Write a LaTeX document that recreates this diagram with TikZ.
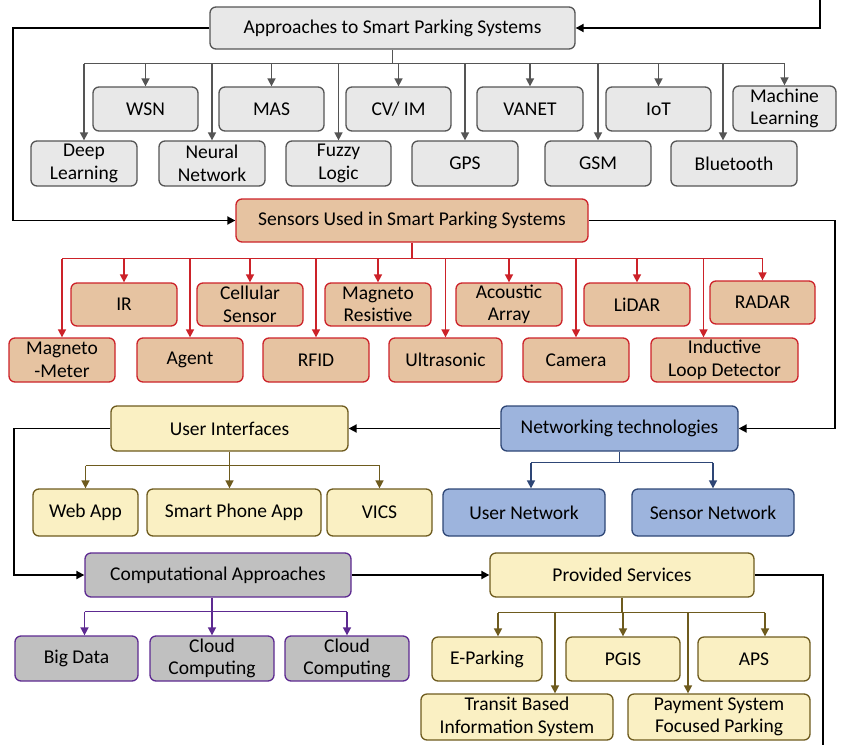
\documentclass[tikz,border=0pt]{standalone}
\usepackage{fontspec}
\setmainfont{Carlito}
\usetikzlibrary{arrows.meta}
\definecolor{apfill}{HTML}{E8E8E8}
\definecolor{apdraw}{HTML}{555555}
\definecolor{sefill}{HTML}{E6C3A1}
\definecolor{sedraw}{HTML}{CC2229}
\definecolor{uifill}{HTML}{FAF0C3}
\definecolor{uidraw}{HTML}{6E5B1E}
\definecolor{nefill}{HTML}{9DB4DD}
\definecolor{nedraw}{HTML}{2E4676}
\definecolor{cafill}{HTML}{C0C0C0}
\definecolor{cadraw}{HTML}{5D2A91}
\tikzset{
  box/.style={draw, rounded corners=6pt, line width=1.3pt, align=center, inner sep=1pt,
    font=\fontsize{19.5}{22.5}\selectfont},
  apbox/.style={box, fill=apfill, draw=apdraw},
  sebox/.style={box, fill=sefill, draw=sedraw},
  uibox/.style={box, fill=uifill, draw=uidraw},
  nebox/.style={box, fill=nefill, draw=nedraw},
  cabox/.style={box, fill=cafill, draw=cadraw},
  tip/.style={-{Triangle[length=8pt,width=8pt]}},
  flow/.style={line width=1.8pt, black},
  apline/.style={line width=1.6pt, apdraw},
  seline/.style={line width=1.6pt, sedraw},
  uiline/.style={line width=1.6pt, uidraw},
  neline/.style={line width=1.6pt, nedraw},
  caline/.style={line width=1.6pt, cadraw}
}
\begin{document}
\begin{tikzpicture}[x=1pt,y=-1pt]
\useasboundingbox (0,0) rectangle (854,745);

% Approaches
\node[apbox, minimum width=365pt, minimum height=42pt] (appr) at (392.5,28) {Approaches to Smart Parking Systems};
\node[apbox, minimum width=105pt, minimum height=44pt] (wsn) at (145.5,109) {WSN};
\node[apbox, minimum width=105pt, minimum height=44pt] (mas) at (271.5,109) {MAS};
\node[apbox, minimum width=105pt, minimum height=44pt] (cvim) at (398.5,109) {CV/ IM};
\node[apbox, minimum width=106pt, minimum height=44pt] (vanet) at (530,109) {VANET};
\node[apbox, minimum width=105pt, minimum height=44pt] (iot) at (658.5,109) {IoT};
\node[apbox, minimum width=103pt, minimum height=45pt] (ml) at (784.5,108.5) {Machine\\Learning};
\node[apbox, minimum width=106pt, minimum height=45pt] (deep) at (84,163.5) {Deep\\Learning};
\node[apbox, minimum width=106pt, minimum height=45pt] (neural) at (212,163.5) {Neural\\Network};
\node[apbox, minimum width=105pt, minimum height=45pt] (fuzzy) at (338.5,163.5) {Fuzzy\\Logic};
\node[apbox, minimum width=106pt, minimum height=45pt] (gps) at (465,163.5) {GPS};
\node[apbox, minimum width=106pt, minimum height=45pt] (gsm) at (598,163.5) {GSM};
\node[apbox, minimum width=126pt, minimum height=45pt] (bluet) at (734,163.5) {Bluetooth};

\draw[apline] (appr.south) -- ++(0,14) coordinate (apbus);
\draw[apline] (apbus -| deep) -- (apbus -| ml);
\foreach \n in {wsn,mas,cvim,vanet,iot,ml,deep,neural,fuzzy,gps,gsm}
  \draw[apline,tip] (apbus -| \n) -- (\n.north);
\draw[apline,tip] ([xshift=-11pt]bluet.north |- apbus) -- ([xshift=-11pt]bluet.north);

% Sensors
\node[sebox, minimum width=352pt, minimum height=43pt] (sens) at (412,220.5) {Sensors Used in Smart Parking Systems};
\node[sebox, minimum width=106pt, minimum height=43pt] (ir) at (124,304.5) {IR};
\node[sebox, minimum width=106pt, minimum height=43pt] (cell) at (250,304.5) {Cellular\\Sensor};
\node[sebox, minimum width=106pt, minimum height=43pt] (magr) at (378,304.5) {Magneto\\Resistive};
\node[sebox, minimum width=106pt, minimum height=43pt] (acou) at (509,304.5) {Acoustic\\Array};
\node[sebox, minimum width=106pt, minimum height=43pt] (lidar) at (637,304.5) {LiDAR};
\node[sebox, minimum width=105pt, minimum height=43pt] (radar) at (762.5,302.5) {RADAR};
\node[sebox, minimum width=106pt, minimum height=44pt] (magm) at (62,360) {Magneto\\-Meter};
\node[sebox, minimum width=106pt, minimum height=44pt] (agent) at (190,360) {Agent};
\node[sebox, minimum width=106pt, minimum height=44pt] (rfid) at (316,360) {RFID};
\node[sebox, minimum width=113pt, minimum height=44pt] (ultra) at (445.5,360) {Ultrasonic};
\node[sebox, minimum width=106pt, minimum height=44pt] (camera) at (576,360) {Camera};
\node[sebox, minimum width=147pt, minimum height=44pt] (induct) at (724.5,360) {Inductive\\Loop Detector};

\draw[seline] (sens.south) -- ++(0,16) coordinate (sebus);
\draw[seline] (sebus -| magm) -- (sebus -| radar);
\foreach \n in {ir,cell,magr,acou,lidar,radar,magm,agent,rfid,ultra,camera}
  \draw[seline,tip] (sebus -| \n) -- (\n.north);
\draw[seline,tip] ([xshift=-21pt]induct.north |- sebus) -- ([xshift=-21pt]induct.north);

% Networking and user interfaces
\node[nebox, minimum width=237pt, minimum height=45pt] (net) at (619.5,428.5) {Networking technologies};
\node[uibox, minimum width=237pt, minimum height=45pt] (ui) at (229.5,428.5) {User Interfaces};
\node[uibox, minimum width=105pt, minimum height=47pt] (web) at (85.5,512.5) {Web App};
\node[uibox, minimum width=174pt, minimum height=47pt] (smart) at (234,512.5) {Smart Phone App};
\node[uibox, minimum width=105pt, minimum height=47pt] (vics) at (379.5,512.5) {VICS};
\node[nebox, minimum width=162pt, minimum height=47pt] (usern) at (524,512.5) {User Network};
\node[nebox, minimum width=162pt, minimum height=47pt] (sensn) at (713,512.5) {Sensor Network};

\draw[uiline] (ui.south) -- ++(0,14) coordinate (uibus);
\draw[uiline] (uibus -| web) -- (uibus -| vics);
\draw[uiline,tip] (uibus -| web) -- (web.north);
\draw[uiline,tip] (uibus) -- (uibus |- smart.north);
\draw[uiline,tip] (uibus -| vics) -- (vics.north);
\draw[neline] (net.south) -- ++(0,11) coordinate (nebus);
\draw[neline] ([xshift=7pt]nebus -| usern) -- (nebus -| sensn);
\draw[neline,tip] ([xshift=7pt]nebus -| usern) -- ([xshift=7pt]usern.north);
\draw[neline,tip] (nebus -| sensn) -- (sensn.north);

% Computational approaches and services
\node[cabox, minimum width=266pt, minimum height=44pt] (comp) at (218,575) {Computational Approaches};
\node[uibox, minimum width=264pt, minimum height=44pt] (prov) at (622,575) {Provided Services};
\node[cabox, minimum width=123pt, minimum height=45pt] (bigd) at (76.5,658.5) {Big Data};
\node[cabox, minimum width=124pt, minimum height=45pt] (cloudA) at (212,658.5) {Cloud\\Computing};
\node[cabox, minimum width=124pt, minimum height=45pt] (cloudB) at (347,658.5) {Cloud\\Computing};
\node[uibox, minimum width=110pt, minimum height=44pt] (epark) at (487,659) {E-Parking};
\node[uibox, minimum width=114pt, minimum height=44pt] (pgis) at (623,659) {PGIS};
\node[uibox, minimum width=112pt, minimum height=44pt] (aps) at (754,659) {APS};
\node[uibox, minimum width=192pt, minimum height=46pt] (transit) at (517,717) {Transit Based\\Information System};
\node[uibox, minimum width=182pt, minimum height=46pt] (pay) at (719,717) {Payment System\\Focused Parking};

\draw[caline] (cloudA |- comp.south) -- ++(0,14) coordinate (cabus);
\draw[caline] ([xshift=8pt]cabus -| bigd) -- (cabus -| cloudB);
\draw[caline,tip] ([xshift=8pt]cabus -| bigd) -- ([xshift=8pt]bigd.north);
\draw[caline,tip] (cabus) -- (cloudA.north);
\draw[caline,tip] (cabus -| cloudB) -- (cloudB.north);
\draw[uiline] (prov.south) -- ++(0,15) coordinate (psbus);
\draw[uiline] ([xshift=11pt]psbus -| epark) -- ([xshift=11pt]psbus -| aps);
\draw[uiline,tip] ([xshift=11pt]psbus -| epark) -- ([xshift=11pt]epark.north);
\draw[uiline,tip] (psbus -| pgis) -- (pgis.north);
\draw[uiline,tip] ([xshift=11pt]psbus -| aps) -- ([xshift=11pt]aps.north);
\draw[uiline,tip] ([xshift=38pt]psbus -| transit) -- ([xshift=38pt]transit.north);
\draw[uiline,tip] ([xshift=-31pt]psbus -| pay) -- ([xshift=-31pt]pay.north);

% main flow
\coordinate (fin) at (820,0);
\coordinate (fout) at (823,745);
\draw[flow,tip] (fin) |- (appr.east);
\draw[flow,tip] (appr.west) -- ++(-196,0) |- (sens.west);
\draw[flow,tip] (sens.east) -- ++(246,0) |- (net.east);
\draw[flow,tip] (net.west) -- (ui.east);
\draw[flow,tip] (ui.west) -- ++(-96,0) |- (comp.west);
\draw[flow,tip] (comp.east) -- (prov.west);
\draw[flow] (prov.east) -| (fout);
\end{tikzpicture}
\end{document}
